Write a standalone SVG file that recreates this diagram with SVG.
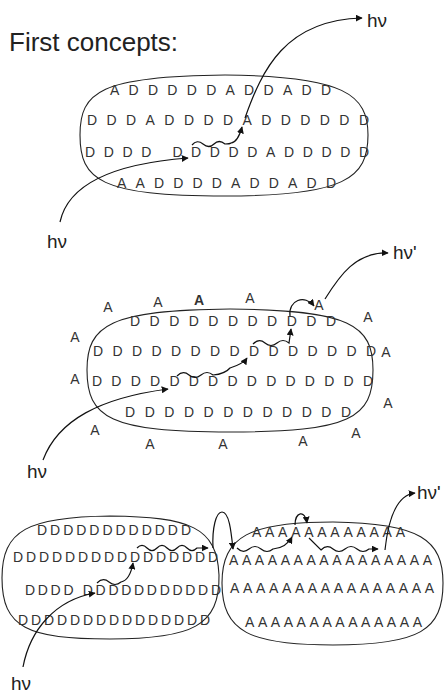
<svg xmlns="http://www.w3.org/2000/svg" width="444" height="693" viewBox="0 0 444 693">
<defs>
<marker id="ah" viewBox="0 0 10 10" refX="9" refY="5" markerWidth="7" markerHeight="7" markerUnits="userSpaceOnUse" orient="auto">
<path d="M0 0 L10 5 L0 10 Z" fill="#111"/>
</marker>
<style>
.blob{fill:none;stroke:#222;stroke-width:1.1}
.row{font-family:"Liberation Sans",Arial,sans-serif;font-size:14px;fill:#333}
.lone{font-family:"Liberation Sans",Arial,sans-serif;font-size:14px;fill:#333;text-anchor:middle}
.lbl{font-family:"Liberation Sans",Arial,sans-serif;font-size:19px;fill:#222}
.ar{fill:none;stroke:#111;stroke-width:1.2;marker-end:url(#ah)}
</style>
</defs>
<rect width="444" height="693" fill="#fff"/>
<text x="9" y="51" font-family="Liberation Sans, Arial, sans-serif" font-size="26" fill="#222">First concepts:</text>

<g id="blob1">
<path class="blob" d="M80 135 C80 92 100 76 225 75 C345 76 368 95 368 135 C368 178 345 196 225 196 C100 196 80 180 80 135 Z"/>
<text class="row" x="110" y="95" textLength="221" lengthAdjust="spacing">ADDDDDADDADD</text>
<text class="row" x="87" y="125" textLength="282" lengthAdjust="spacing">DDDADDDDADDDDDD</text>
<text class="row" x="85" y="157" textLength="284" lengthAdjust="spacing">DDDD DDDDDADDDDD</text>
<text class="row" x="117" y="188" textLength="219" lengthAdjust="spacing">AADDDDADDADD</text>
</g>

<g id="blob2">
<path class="blob" d="M87 370 C87 325 110 310 230 309 C350 310 373 325 373 370 C373 418 350 432 230 432 C110 432 87 418 87 370 Z"/>
<text class="row" x="130" y="326" textLength="206" lengthAdjust="spacing">DDDDDDDDDDD</text>
<text class="row" x="93" y="356" textLength="283" lengthAdjust="spacing">DDDDDDDDDDDDDDD</text>
<text class="row" x="92" y="386" textLength="281" lengthAdjust="spacing">DDDDDDDDDDDDDDD</text>
<text class="row" x="125" y="417" textLength="226" lengthAdjust="spacing">DDDDDDDDDDDD</text>
</g>

<g id="acceptors2">
<text class="lone" x="108" y="312">A</text>
<text class="lone" x="158" y="307">A</text>
<text class="lone" x="199" y="305" font-weight="bold">A</text>
<text class="lone" x="250" y="303">A</text>
<text class="lone" x="319" y="310">A</text>
<text class="lone" x="368" y="322">A</text>
<text class="lone" x="75" y="342">A</text>
<text class="lone" x="386" y="357">A</text>
<text class="lone" x="75" y="384">A</text>
<text class="lone" x="388" y="408">A</text>
<text class="lone" x="95" y="435">A</text>
<text class="lone" x="150" y="449">A</text>
<text class="lone" x="223" y="449">A</text>
<text class="lone" x="303" y="446">A</text>
<text class="lone" x="356" y="438">A</text>
</g>

<g id="blob3-donor">
<path class="blob" d="M2 578 C2 530 28 517 110 516 C190 517 217 527 219 575 C220 626 192 639 110 639 C28 639 2 628 2 578 Z"/>
<text class="row" x="37" y="535" textLength="154" lengthAdjust="spacing">DDDDDDDDDDDD</text>
<text class="row" x="13" y="562" textLength="205" lengthAdjust="spacing">DDDDDDDDDDDDDDDD</text>
<text class="row" x="25" y="595" textLength="196" lengthAdjust="spacing">DDDD DDDDDDDDDDD</text>
<text class="row" x="18" y="625" textLength="192" lengthAdjust="spacing">DDDDDDDDDDDDDDD</text>
</g>

<g id="blob3-acceptor">
<path class="blob" d="M222 583 C222 536 250 522 333 522 C420 523 443 540 443 583 C443 630 420 645 333 645 C250 645 222 632 222 583 Z"/>
<text class="row" x="252" y="537" textLength="153" lengthAdjust="spacing">AAAAAAAAAAAA</text>
<text class="row" x="229" y="565" textLength="203" lengthAdjust="spacing">AAAAAAAAAAAAAAAA</text>
<text class="row" x="230" y="593" textLength="204" lengthAdjust="spacing">AAAAAAAAAAAAAAAA</text>
<text class="row" x="245" y="627" textLength="177" lengthAdjust="spacing">AAAAAAAAAAAAAA</text>
</g>

<g id="labels">
<text class="lbl" x="367" y="27">hν</text>
<text class="lbl" x="47" y="248">hν</text>
<text class="lbl" x="393" y="259">hν'</text>
<text class="lbl" x="27" y="478">hν</text>
<text class="lbl" x="417" y="499">hν'</text>
<text class="lbl" x="11" y="690">hν</text>
</g>

<g id="connectors">
<path class="ar" d="M60 222 C68 185 110 164 188 158"/>
<path class="ar" d="M192 145 q5 -6 11 -1 t11 0 t11 0 q5 0 6 -1 Q238 142 242 127"/>
<path class="ar" d="M245 118 C262 70 285 20 362 18"/>

<path class="ar" d="M43 460 C58 420 100 398 168 389"/>
<path class="ar" d="M177 376 q6 -6 12 -1 t12 0 t12 0 q12 -1 17 -7 Q243 364 247 358"/>
<path class="ar" d="M253 344 q6 -6 12 -1 t12 0 t12 0 L291 329"/>
<path class="ar" d="M290 316 C288 300 305 294 314 306"/>
<path class="ar" d="M325 299 C340 275 356 252 388 253"/>

<path class="ar" d="M23 667 C30 630 55 600 95 593"/>
<path class="ar" d="M97 583 q6 -6 12 -1 t12 0 Q130 580 133 563"/>
<path class="ar" d="M137 548 q5 -5 10 0 t10 0 t10 0 t10 0 t10 0 t10 0 L208 548"/>
<path class="ar" d="M213 548 C212 528 216 512 222 512 C229 512 231 530 233 549"/>
<path class="ar" d="M237 548 q6 6 12 1 t12 0 t12 0 Q286 548 292 537"/>
<path class="ar" d="M295 525 C295 512 305 509 307 523"/>
<path class="ar" d="M309 538 L321 550 q6 -6 12 -1 t12 0 t12 0 t12 0 L378 549"/>
<path class="ar" d="M385 550 C388 522 395 495 415 493"/>
</g>
</svg>
